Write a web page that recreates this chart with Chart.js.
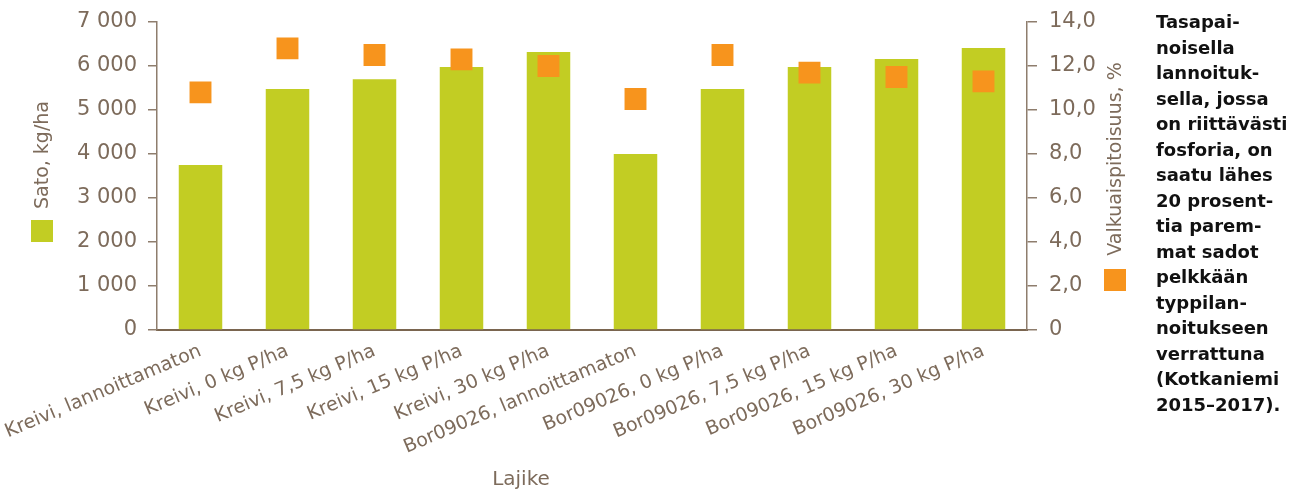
<!DOCTYPE html>
<html>
<head>
<meta charset="utf-8">
<script src="https://cdn.jsdelivr.net/npm/chart.js@4/dist/chart.umd.min.js"></script>
<style>
  body { margin: 0; background: #fff; }
  #wrap { position: relative; width: 1298px; height: 492px; }
  #note {
    position: absolute; left: 1156px; top: 9px;
    font: bold 18px/25.5px "DejaVu Sans", sans-serif; color: #111;
  }
</style>
</head>
<body>
<div id="wrap">
  <canvas id="myChart" width="1298" height="492"></canvas>
  <div id="note">Tasapai-<br>noisella<br>lannoituk-<br>sella, jossa<br>on riittävästi<br>fosforia, on<br>saatu lähes<br>20 prosent-<br>tia parem-<br>mat sadot<br>pelkkään<br>typpilan-<br>noitukseen<br>verrattuna<br>(Kotkaniemi<br>2015–2017).</div>
</div>
<script>
const categories = [
  "Kreivi, lannoittamaton", "Kreivi, 0 kg P/ha", "Kreivi, 7,5 kg P/ha",
  "Kreivi, 15 kg P/ha", "Kreivi, 30 kg P/ha", "Bor09026, lannoittamaton",
  "Bor09026, 0 kg P/ha", "Bor09026, 7,5 kg P/ha", "Bor09026, 15 kg P/ha",
  "Bor09026, 30 kg P/ha"
];
const yieldKgHa = [3750, 5480, 5700, 5980, 6320, 4000, 5480, 5980, 6160, 6410];
const proteinPct = [10.8, 12.8, 12.5, 12.3, 12.0, 10.5, 12.5, 11.7, 11.5, 11.3];
const leftTickLabels = ["0", "1 000", "2 000", "3 000", "4 000", "5 000", "6 000", "7 000"];
const rightTickLabels = ["0", "2,0", "4,0", "6,0", "8,0", "10,0", "12,0", "14,0"];

const textColor = "#7d6b5b";
const axisColor = "#8e7d6d";
const green = "#c2cd23";
const orange = "#f7941d";
const fontFamily = "'DejaVu Sans', sans-serif";

// axis titles with their little legend squares + the x title
const axisTitles = {
  id: "axisTitles",
  afterDraw(chart) {
    const ctx = chart.ctx;
    const area = chart.chartArea;
    ctx.save();
    ctx.fillStyle = textColor;
    ctx.font = "19px " + fontFamily;
    ctx.textAlign = "center";
    ctx.textBaseline = "middle";

    ctx.save();
    ctx.translate(area.left - 114, area.top + 133);
    ctx.rotate(-Math.PI / 2);
    ctx.fillText("Sato, kg/ha", 0, 0);
    ctx.restore();
    ctx.fillStyle = green;
    ctx.fillRect(area.left - 126, area.top + 198, 22, 22);

    ctx.fillStyle = textColor;
    ctx.save();
    ctx.translate(area.right + 89, area.top + 137);
    ctx.rotate(-Math.PI / 2);
    ctx.fillText("Valkuaispitoisuus, %", 0, 0);
    ctx.restore();
    ctx.fillStyle = orange;
    ctx.fillRect(area.right + 77, area.top + 247, 22, 22);

    ctx.fillStyle = textColor;
    ctx.font = "20px " + fontFamily;
    ctx.fillText("Lajike", 521, area.bottom + 150);
    ctx.restore();
  }
};

var ctx = document.getElementById("myChart").getContext("2d");
new Chart(ctx, {
  type: "bar",
  data: {
    labels: categories,
    datasets: [{
      type: "line",
      data: proteinPct,
      yAxisID: "y1",
      showLine: false,
      pointStyle: "rect",
      pointRadius: 15.5,
      pointHoverRadius: 15.5,
      pointBorderWidth: 0,
      backgroundColor: orange,
      borderColor: orange
    }, {
      data: yieldKgHa,
      yAxisID: "y",
      backgroundColor: green,
      borderWidth: 0,
      categoryPercentage: 1,
      barPercentage: 0.5
    }]
  },
  plugins: [axisTitles],
  options: {
    responsive: false,
    animation: false,
    devicePixelRatio: 1,
    layout: { padding: { top: 22, left: 0, right: 0, bottom: 0 } },
    plugins: { legend: { display: false }, tooltip: { enabled: false } },
    scales: {
      x: {
        grid: { display: false },
        border: { display: true, color: "#7a654f", width: 2 },
        ticks: {
          color: textColor, font: { size: 19, family: fontFamily },
          minRotation: 23, maxRotation: 23, autoSkip: false, padding: 2
        },
        afterFit(s) { s.height = 162; s.paddingLeft = 0; s.paddingRight = 0; }
      },
      y: {
        position: "left",
        min: 0, max: 7000,
        ticks: {
          stepSize: 1000, color: textColor, padding: 11,
          font: { size: 21, family: fontFamily },
          callback: (v, i) => leftTickLabels[i]
        },
        grid: { drawOnChartArea: false, tickLength: 9, color: axisColor, lineWidth: 1.5 },
        border: { color: axisColor, width: 1.5 },
        afterFit(s) { s.width = 157; s.paddingTop = 0; s.paddingBottom = 0; }
      },
      y1: {
        position: "right",
        min: 0, max: 14,
        ticks: {
          stepSize: 2, color: textColor, padding: 12,
          font: { size: 21, family: fontFamily },
          callback: (v, i) => rightTickLabels[i]
        },
        grid: { drawOnChartArea: false, tickLength: 10, color: axisColor, lineWidth: 1.5 },
        border: { color: axisColor, width: 1.5 },
        afterFit(s) { s.width = 271; s.paddingTop = 0; s.paddingBottom = 0; }
      }
    }
  }
});
</script>
</body>
</html>
